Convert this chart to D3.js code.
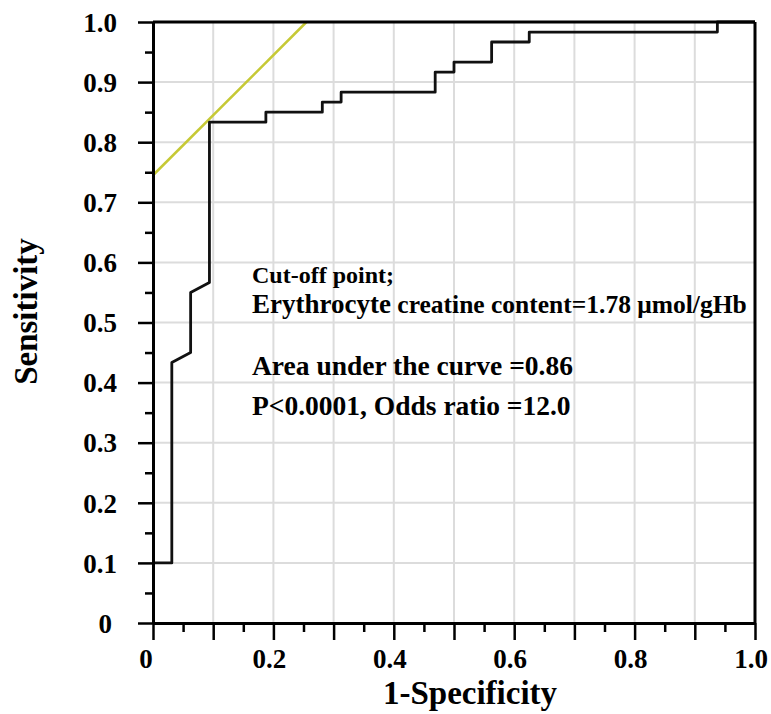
<!DOCTYPE html>
<html>
<head>
<meta charset="utf-8">
<script src="https://cdn.jsdelivr.net/npm/d3@7"></script>
<style>
  body { margin: 0; background: #fff; }
  text { font-family: "Liberation Serif", "Times New Roman", serif; font-weight: bold; fill: #000; }
</style>
</head>
<body>
<div id="chart"></div>
<script>
///// DATA
// ROC curve: 1-specificity / sensitivity
const fpr = [0, 0.03125, 0.03125, 0.0625, 0.0625, 0.09375, 0.09375, 0.1875, 0.1875, 0.28125, 0.28125, 0.3125, 0.3125,
    0.46875, 0.46875, 0.5, 0.5, 0.5625, 0.5625, 0.625, 0.625, 0.9375, 0.9375, 1.0];
const tpr = [0.1, 0.1, 0.4333, 0.45, 0.55, 0.5667, 0.8333, 0.8333, 0.85, 0.85, 0.8667, 0.8667, 0.8833,
    0.8833, 0.9167, 0.9167, 0.9333, 0.9333, 0.9667, 0.9667, 0.9833, 0.9833, 1.0, 1.0];

// tangent line at the cut-off point
const cutX = [0, 0.255];
const cutY = [0.745, 1.0];

const xTickLabels = [0, 0.2, 0.4, 0.6, 0.8, 1.0];
const yTickLabels = [0, 0.1, 0.2, 0.3, 0.4, 0.5, 0.6, 0.7, 0.8, 0.9, 1.0];
const gridValues = [0.1, 0.2, 0.3, 0.4, 0.5, 0.6, 0.7, 0.8, 0.9];

const xTitle = '1-Specificity';
const yTitle = 'Sensitivity';

///// SVG
const WIDTH = 771, HEIGHT = 714;
const MARGIN = { top: 22, right: 16, bottom: 91, left: 153 };
const gW = WIDTH - MARGIN.left - MARGIN.right;
const gH = HEIGHT - MARGIN.top - MARGIN.bottom;

const svg = d3.select('#chart').append('svg')
    .attr('width', WIDTH)
    .attr('height', HEIGHT);

const g = svg.append('g')
    .attr('transform', `translate(${MARGIN.left},${MARGIN.top})`);

// SCALES
const x = d3.scaleLinear().domain([0, 1]).range([0, gW]);
const y = d3.scaleLinear().domain([0, 1]).range([gH, 0]);

const fmt = d => d === 0 ? '0' : d3.format('.1f')(d);

// GRID
g.selectAll('.vgrid').data(gridValues).enter().append('line')
    .attr('class', 'vgrid')
    .attr('x1', d => x(d)).attr('x2', d => x(d))
    .attr('y1', 0).attr('y2', gH)
    .attr('stroke', '#dcdcdc').attr('stroke-width', 2);

g.selectAll('.hgrid').data(gridValues).enter().append('line')
    .attr('class', 'hgrid')
    .attr('x1', 0).attr('x2', gW)
    .attr('y1', d => y(d)).attr('y2', d => y(d))
    .attr('stroke', '#dcdcdc').attr('stroke-width', 2);

// TANGENT LINE
g.append('line')
    .attr('x1', x(cutX[0])).attr('y1', y(cutY[0]))
    .attr('x2', x(cutX[1])).attr('y2', y(cutY[1]))
    .attr('stroke', '#c6c935').attr('stroke-width', 2.5);

// ROC CURVE
const rocLine = d3.line()
    .x((d, i) => x(fpr[i]))
    .y((d, i) => y(tpr[i]));

g.append('path')
    .datum(fpr)
    .attr('d', rocLine)
    .attr('fill', 'none')
    .attr('stroke', '#111')
    .attr('stroke-width', 2.8)
    .attr('stroke-linejoin', 'round');

// AXES (major every 0.1, minor every 0.05)
const minorTicks = d3.range(0, 1.0001, 0.05).map(d => +d.toFixed(2));
const isMajor = d => Math.abs(d * 10 - Math.round(d * 10)) < 1e-6;

const xAxisCall = d3.axisBottom(x)
    .tickValues(minorTicks)
    .tickSizeOuter(0)
    .tickFormat('');
const xAxis = g.append('g')
    .attr('transform', `translate(0,${gH})`)
    .call(xAxisCall);
xAxis.selectAll('.tick line')
    .attr('y2', d => isMajor(d) ? 17 : 9)
    .attr('stroke-width', 2.5);

const yAxisCall = d3.axisLeft(y)
    .tickValues(minorTicks)
    .tickSizeOuter(0)
    .tickFormat('');
const yAxis = g.append('g')
    .call(yAxisCall);
yAxis.selectAll('.tick line')
    .attr('x2', d => isMajor(d) ? -15 : -8)
    .attr('stroke-width', 2.5);

[xAxis, yAxis].forEach(a => a.select('.domain').attr('stroke-width', 3));

// FRAME (top + right)
g.append('line')
    .attr('x1', 0).attr('x2', gW).attr('y1', 0).attr('y2', 0)
    .attr('stroke', '#000').attr('stroke-width', 3);
g.append('line')
    .attr('x1', gW).attr('x2', gW).attr('y1', 0).attr('y2', gH)
    .attr('stroke', '#000').attr('stroke-width', 3);

// TICK LABELS
g.selectAll('.x-lab').data(xTickLabels).enter().append('text')
    .attr('class', 'x-lab')
    .attr('x', d => x(d) - (d === 0 ? 7 : 4))
    .attr('y', gH + 45)
    .attr('text-anchor', 'middle')
    .style('font-size', '27px')
    .text(fmt);

g.selectAll('.y-lab').data(yTickLabels).enter().append('text')
    .attr('class', 'y-lab')
    .attr('x', d => d === 0 ? -41 : -36)
    .attr('y', d => y(d))
    .attr('dy', '0.36em')
    .attr('text-anchor', 'end')
    .style('font-size', '27px')
    .text(fmt);

// AXIS TITLES
g.append('text')
    .attr('x', gW / 2 + 16)
    .attr('y', gH + 81)
    .attr('text-anchor', 'middle')
    .style('font-size', '33px')
    .text(xTitle);

g.append('text')
    .attr('transform', `translate(${37 - MARGIN.left},${gH / 2 - 11}) rotate(-90)`)
    .attr('text-anchor', 'middle')
    .style('font-size', '33px')
    .text(yTitle);

// ANNOTATION
const note = g.append('g').attr('transform', `translate(${252 - MARGIN.left},0)`);

note.append('text')
    .attr('y', 283 - MARGIN.top)
    .style('font-size', '24px')
    .text('Cut-off point;');

const l2 = note.append('text')
    .attr('y', 313 - MARGIN.top)
    .style('font-size', '25.5px');
l2.append('tspan').style('font-size', '27px').text('Erythrocyte');
l2.append('tspan').text(' creatine content=1.78 μmol/gHb');

note.append('text')
    .attr('y', 375 - MARGIN.top)
    .style('font-size', '27.5px')
    .text('Area under the curve =0.86');

note.append('text')
    .attr('y', 415 - MARGIN.top)
    .style('font-size', '27.5px')
    .text('P<0.0001, Odds ratio =12.0');
</script>
</body>
</html>
